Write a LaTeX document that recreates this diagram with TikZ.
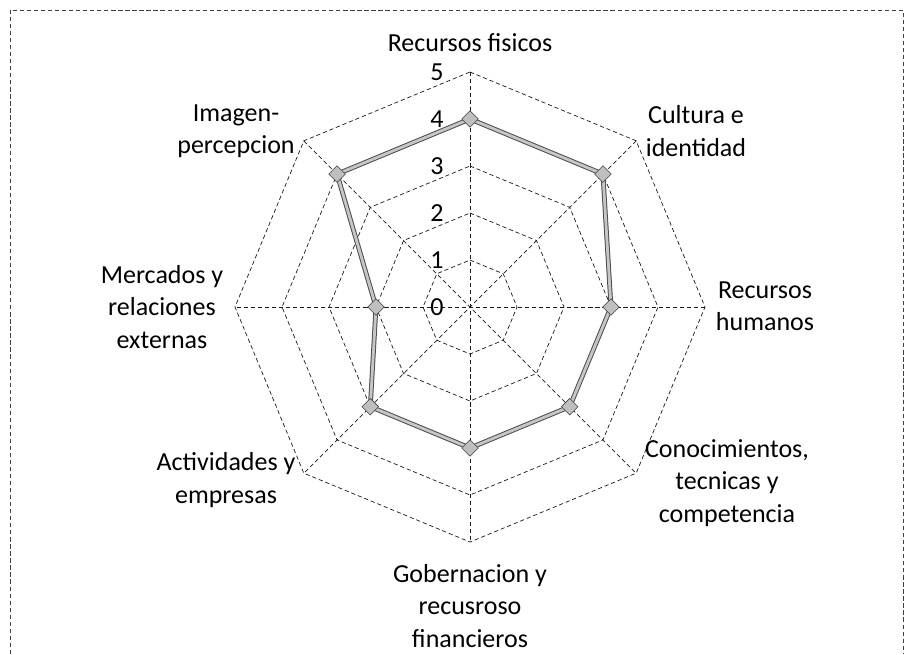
\documentclass[tikz,border=0pt]{standalone}
\usepackage{fontspec}
\setmainfont{Carlito}
\usetikzlibrary{shapes}
\usetikzlibrary{backgrounds}
\tikzset{
    axisnode/.style = {align=center,font=\fontsize{18.5}{23}\selectfont,text=black,inner sep=0pt},
    ticknode/.style = {font=\fontsize{18.5}{23}\selectfont,text=black,inner sep=0pt},
    valnode/.style = {diamond, thin, draw=black!75, fill=gray!50, minimum size=0.42cm, inner sep=0pt},
    gridn/.style = {-, line width=0.5pt, black!90, densely dashed},
    edged/.style = {-, line width=0.7pt, draw=black!70, double=gray!45, double distance=2pt, line join=round},
    framen/.style = {-, line width=0.6pt, black!75, densely dashed}
}
\begin{document}
\begin{tikzpicture}[x=0.025cm,y=0.025cm]
%
\path[use as bounding box] (-470,-347) rectangle (435,307);
\draw[framen] (-460,-347) -- (-460,297) -- (433,297) -- (433,-347);
%
\node[valnode] at (90:188) (rf) {};
\node[valnode] at (45:188) (ci) {};
\node[valnode] at (0:141) (rh) {};
\node[valnode] at (-45:141) (co) {};
\node[valnode] at (-90:141) (go) {};
\node[valnode] at (-135:141) (ae) {};
\node[valnode] at (180:94) (me) {};
\node[valnode] at (135:188) (im) {};
%
\begin{scope}[on background layer]
\draw[gridn] (90:47) -- (45:47) -- (0:47) -- (-45:47) -- (-90:47) -- (-135:47) -- (180:47) -- (135:47) -- cycle;
\draw[gridn] (90:94) -- (45:94) -- (0:94) -- (-45:94) -- (-90:94) -- (-135:94) -- (180:94) -- (135:94) -- cycle;
\draw[gridn] (90:141) -- (45:141) -- (0:141) -- (-45:141) -- (-90:141) -- (-135:141) -- (180:141) -- (135:141) -- cycle;
\draw[gridn] (90:188) -- (45:188) -- (0:188) -- (-45:188) -- (-90:188) -- (-135:188) -- (180:188) -- (135:188) -- cycle;
\draw[gridn] (90:235) -- (45:235) -- (0:235) -- (-45:235) -- (-90:235) -- (-135:235) -- (180:235) -- (135:235) -- cycle;
\draw[gridn] (90:235) -- (-90:235);
\draw[gridn] (45:235) -- (-135:235);
\draw[gridn] (0:235) -- (180:235);
\draw[gridn] (135:235) -- (-45:235);
%
\draw[edged] (rf.center) -- (ci.center) -- (rh.center) -- (co.center) -- (go.center) -- (ae.center) -- (me.center) -- (im.center) -- cycle;
\end{scope}
%
\node[ticknode] at (-33,0) (t0) {0};
\node[ticknode] at (-33,47) (t1) {1};
\node[ticknode] at (-33,94) (t2) {2};
\node[ticknode] at (-33,141) (t3) {3};
\node[ticknode] at (-33,188) (t4) {4};
\node[ticknode] at (-33,235) (t5) {5};
%
\node[axisnode] at (0,264) (lrf) {Recursos fisicos};
\node[axisnode] at (226,176) (lci) {Cultura e\\identidad};
\node[axisnode] at (295,1) (lrh) {Recursos\\humanos};
\node[axisnode] at (257,-176) (lco) {Conocimientos,\\tecnicas y\\competencia};
\node[axisnode] at (0,-299) (lgo) {Gobernacion y\\recusroso\\financieros};
\node[axisnode] at (-244,-173) (lae) {Actividades y\\empresas};
\node[axisnode] at (-308,0) (lme) {Mercados y\\relaciones\\externas};
\node[axisnode] at (-234,176) (lim) {Imagen-\\percepcion};

\end{tikzpicture}
\end{document}
